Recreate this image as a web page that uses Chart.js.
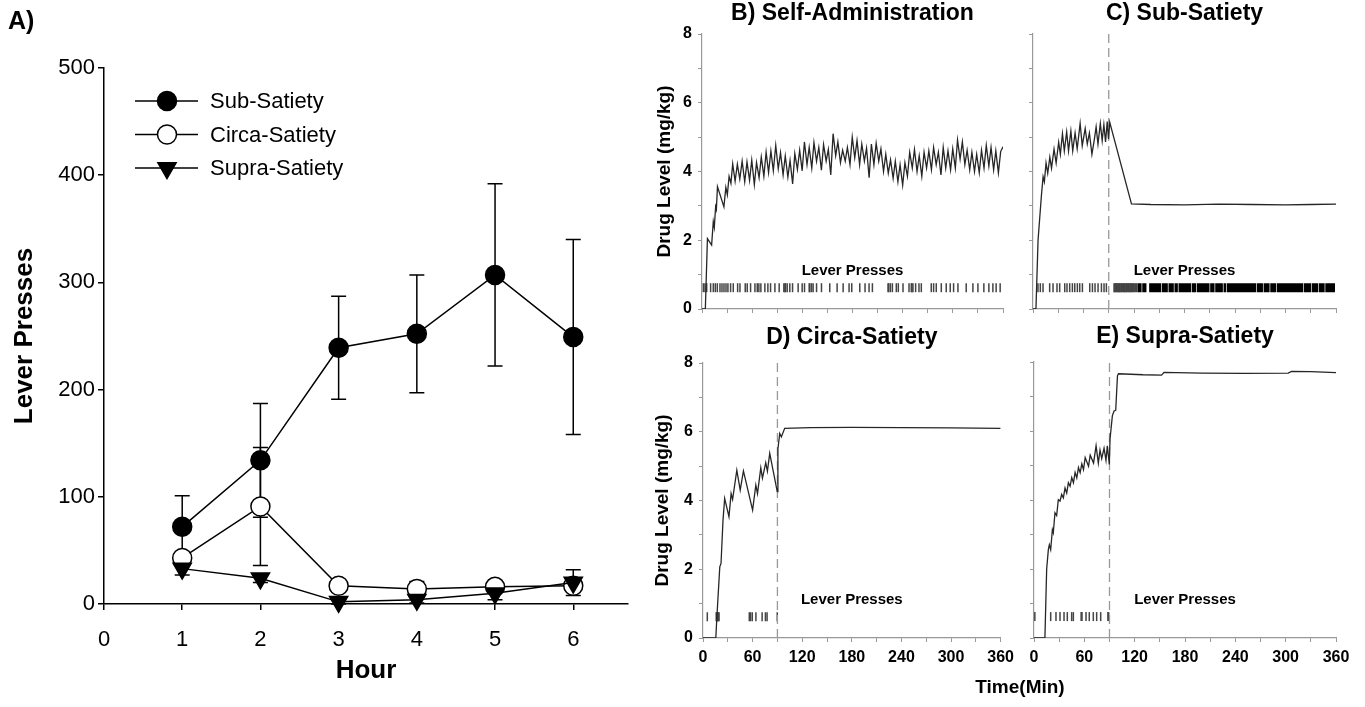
<!DOCTYPE html>
<html>
<head>
<meta charset="utf-8">
<script src="https://cdn.jsdelivr.net/npm/chart.js@4.4.1/dist/chart.umd.min.js"></script>
<style>
  html, body { margin: 0; padding: 0; background: #fff; width: 1365px; height: 707px; overflow: hidden; }
  canvas { position: absolute; }
  #timeLabel { position: absolute; left: 920px; top: 676px; width: 200px; text-align: center;
    font: bold 19px 'Liberation Sans', Arial, sans-serif; line-height: 22px; color: #000; }
</style>
</head>
<body>
<canvas id="cA" width="640" height="707" style="left:0;top:0"></canvas>
<canvas id="cB" width="380" height="330" style="left:640px;top:0"></canvas>
<canvas id="cC" width="345" height="330" style="left:1020px;top:0"></canvas>
<canvas id="cD" width="380" height="387" style="left:640px;top:320px"></canvas>
<canvas id="cE" width="345" height="387" style="left:1020px;top:320px"></canvas>
<div id="timeLabel">Time(Min)</div>
<script>
// ---------------- Panel A data ----------------
const HOURS = [1, 2, 3, 4, 5, 6];
const SUB_MEAN = [72, 134, 239, 252, 307, 249];
const SUB_SEM = [29, 53, 48, 55, 85, 91];
const CIRCA_MEAN = [43, 91, 17, 14, 16, 17];
const CIRCA_SEM = [5, 55, 4, 7, 4, 5];
const SUPRA_MEAN = [33, 24, 2, 4, 10, 20];
const SUPRA_SEM = [6, 4, 2, 3, 6, 12];
const A_X_TICKS = [0, 1, 2, 3, 4, 5, 6];
const A_Y_TICKS = [0, 100, 200, 300, 400, 500];

// ---------------- Panels B-E data ([minute, mg/kg]) ----------------
const TIME_TICKS = [0, 30, 60, 90, 120, 150, 180, 210, 240, 270, 300, 330, 360];
const TIME_LABELS = [0, 60, 120, 180, 240, 300, 360];
const LEVEL_TICKS = [0, 1, 2, 3, 4, 5, 6, 7, 8];
const LEVEL_LABELS = [0, 2, 4, 6, 8];
const SATIETY_MIN = 90;

const B_TRACE = [[0,0],[4,0],[6.5,2.05],[11.5,1.86],[13.5,2.54],[14.7,2.37],[16.3,2.98],[17.2,2.9],[18.5,3.56],[26.2,2.97],[28.5,3.54],[30.3,3.32],[32.4,3.86],[34.6,3.66],[36.7,4.22],
[39.6,3.72],[42.3,4.21],[45.2,3.78],[48.0,4.3],[51.1,3.7],[53.8,4.28],[56.9,3.74],[59.5,4.33],[62.6,3.62],[65.2,4.26],[68.3,3.82],[70.9,4.42],[74.0,3.86],[76.7,4.56],[79.6,3.97],[82.4,4.6],[85.3,4.02],[88.2,4.76],[91.2,4.08],[93.9,4.55],[97.0,3.9],[99.6,4.45],[102.7,3.84],[105.3,4.32],[108.4,3.64],[111.0,4.52],[114.1,4.06],[116.8,4.62],[119.8,4.02],[122.5,4.86],[125.6,4.2],[128.2,4.7],[131.3,4.1],[133.9,4.84],[137.0,4.3],[139.7,4.7],[142.8,4.04],[145.4,4.78],[148.5,4.3],[151.1,4.64],[154.0,3.9],[156.8,5.1],[159.9,4.46],[162.5,4.86],[165.6,4.26],[168.2,4.62],[171.3,4.3],[173.9,4.7],[177.0,4.2],[179.7,5.0],[182.7,4.4],[185.4,4.9],[188.5,4.2],[191.1,4.8],[194.2,4.3],[196.8,4.68],[199.9,3.82],[202.6,4.8],[205.6,4.2],[208.3,4.82],[211.4,4.3],[214.0,4.66],[217.1,4.0],[219.8,4.5],[222.8,3.95],[225.5,4.34],[228.6,3.8],[231.2,4.3],[234.3,3.7],[236.9,4.2],[240.0,3.6],[242.7,4.26],[245.7,3.86],[248.4,4.56],[251.5,4.1],[254.1,4.64],[257.2,4.0],[259.8,4.46],[262.9,3.86],[265.6,4.56],[268.6,4.1],[271.3,4.6],[274.4,4.05],[277.0,4.7],[280.1,4.2],[282.7,4.56],[285.8,3.9],[288.5,4.7],[291.5,4.1],[294.2,4.6],[297.3,4.05],[299.9,4.66],[303.0,4.1],[305.6,4.92],[308.7,4.36],[311.4,4.86],[314.4,4.2],[317.1,4.62],[320.2,4.05],[322.8,4.56],[325.9,4.0],[328.5,4.5],[331.6,3.96],[334.3,4.62],[337.3,4.1],[340.0,4.76],[343.1,4.16],[345.7,4.7],[348.8,4.05],[351.4,4.6],[354.5,3.96],[357.2,4.58],[360,4.72]];

const C_TRACE = [[0,0],[3.5,0],[6,2.0],[10,3.3],[12,3.85],[13.5,3.7],[15.5,4.25],[17.5,3.95],[20,4.42],[22,4.1],[25,4.65],[27.5,4.25],[30.5,4.85],[32.5,4.5],[35,5.1],[37.2,4.6],[40,5.15],[42.2,4.6],[45,5.18],[47.2,4.6],[50,5.12],[52.5,4.66],[56,5.4],[58.5,4.75],[62,5.25],[64.5,4.8],[67,5.12],[70,4.5],[73,4.95],[75,5.3],[77.2,4.8],[80,5.4],[82.2,4.9],[84.2,5.36],[86.2,4.86],[88.2,5.45],[89.7,4.95],[91.2,5.43],[117,3.06],[140,3.04],[180,3.03],[220,3.05],[260,3.04],[300,3.03],[330,3.04],[360,3.05]];

const D_TRACE = [[0,0],[15.5,0],[16.8,0.62],[20.3,2.07],[21.8,2.17],[24.2,3.43],[26.2,4.06],[31.4,3.53],[34,4.2],[35.8,4.03],[40.9,4.88],[45,4.3],[48.9,4.86],[60,3.72],[63.9,4.45],[65.9,4.2],[69.9,4.95],[71.9,4.65],[75.9,5.1],[77.9,4.85],[80.7,5.37],[89.8,4.26],[90.6,5.5],[92.8,5.95],[94.8,5.85],[98.8,6.1],[130,6.12],[180,6.13],[240,6.12],[300,6.11],[360,6.1]];

const E_TRACE = [[0,0],[13,0],[15.1,2.0],[17.1,2.56],[18.3,2.7],[19.9,2.56],[21.9,3.14],[23,3.05],[25,3.63],[27,3.55],[29,4.01],[31,3.97],[33,4.16],[35,4.06],[37,4.35],[39,4.2],[41,4.5],[43,4.4],[45,4.65],[47,4.5],[49,4.8],[51,4.64],[53,4.94],[55,4.79],[57,5.05],[59,4.88],[61,5.23],[65,4.98],[67,5.3],[71,5.07],[74,5.57],[76.7,5.07],[78.7,5.45],[80.7,5.2],[83.5,5.5],[85.8,5.15],[87.4,5.57],[89.8,5.03],[90.6,5.76],[93.4,6.44],[95.4,6.58],[97.4,6.6],[99.5,7.6],[100.7,7.66],[130,7.63],[152,7.62],[155,7.7],[200,7.68],[250,7.67],[303,7.68],[307,7.73],[330,7.72],[360,7.69]];

// lever press times (min)
const B_PRESSES = [1.6,3.6,5.6,10.3,13.5,15.9,18.3,21.5,23.9,26.3,28.7,31,34.2,37.4,42.6,45.4,51.7,54.1,58.1,63.3,66.1,68,70.4,75.2,78.8,82,87.2,92.3,97.9,99.2,99.9,101.9,105,108.3,115,119.8,122.6,128.2,129,131,132.9,137,142.9,152.8,161.6,168.8,175.9,179.1,188.7,195,199.8,203.8,222.5,223.3,225.3,227.7,232.4,234.8,240.4,247.6,250.3,251.1,252.3,255.5,259.5,262.3,274.2,277,280.2,286.2,292.1,296.9,300.9,306.1,316,324,330,337.1,343.1,347.9,351.8,356.6];
const C_PRESSES = [5.9,8.7,11.9,19.8,23.8,28.5,31.7,37.7,40.4,43.6,46.8,49.6,52.7,55.5,58.7,67.4,70.6,73.7,77.3,81.3,84.4,87.2,
  96.3,97.2,98,99.1,99.9,100.8,101.9,102.6,103.5,104.6,105.4,106.3,107.5,108.2,109.1,110.3,111,112,113.2,114.1,115,116.2,117,118.1,119.3,120.2,121.8,123.2];
const C_PRESS_BLOCKS = [[124.1,129],[129.8,134.8],[138,152.3],[153.1,160.2],[161,167.3],[168.1,172.1],[172.9,187.9],[188.7,193.9],[194.7,209.7],[210.5,215.7],[216.5,225.6],[226.4,229.6],[230.4,265.3],[266.1,273.2],[274,281.1],[281.9,289],[289.8,320.8],[321.6,330.7],[331.5,338.6],[339.4,346.5],[347.3,358.8]];
const D_PRESSES = [5.2,16,16.6,17.2,17.8,18.5,19.4,56,57.5,59.6,64,71.5,75.5,77.5,89.8];
const E_PRESSES = [1,19.9,26.2,31,35.8,39.7,44.9,46.9,56.2,57.2,62,65.9,70.7,74.7,79.5,88.1,89];
const PRESS_LEVEL = 0.62;
const PRESS_LABEL_POS = [180, 1.1];

// ---------------- common ----------------
const FONT = "'Liberation Sans', Arial, sans-serif";
Chart.defaults.font.family = FONT;
Chart.defaults.color = '#000';
Chart.defaults.animation = false;

const errorBars = {
  id: 'errorBars',
  beforeDatasetsDraw(chart) {
    const { ctx, scales: { x, y } } = chart;
    ctx.save();
    ctx.strokeStyle = '#000';
    ctx.lineWidth = 1.5;
    chart.data.datasets.forEach(ds => {
      if (!ds.errors) return;
      ds.data.forEach((p, i) => {
        const e = ds.errors[i];
        const px = x.getPixelForValue(p.x);
        const yt = y.getPixelForValue(p.y + e);
        const yb = y.getPixelForValue(Math.max(p.y - e, 0));
        ctx.beginPath();
        ctx.moveTo(px, yt); ctx.lineTo(px, yb);
        ctx.moveTo(px - 7.5, yt); ctx.lineTo(px + 7.5, yt);
        ctx.moveTo(px - 7.5, yb); ctx.lineTo(px + 7.5, yb);
        ctx.stroke();
      });
    });
    ctx.restore();
  }
};

const legendA = {
  id: 'legendA',
  afterDraw(chart) {
    const { ctx, chartArea: { left, top } } = chart;
    ctx.save();
    ctx.font = '22px ' + FONT;
    ctx.textBaseline = 'middle';
    ctx.textAlign = 'left';
    chart.data.datasets.forEach((ds, i) => {
      const yy = top + 33 + i * 33.5;
      ctx.strokeStyle = '#000';
      ctx.lineWidth = 1.5;
      ctx.beginPath();
      ctx.moveTo(left + 31, yy); ctx.lineTo(left + 94, yy);
      ctx.stroke();
      ctx.fillStyle = ds.pointBackgroundColor;
      ctx.strokeStyle = ds.pointBorderColor;
      ctx.lineWidth = ds.pointBorderWidth;
      Chart.helpers.drawPoint(ctx, { pointStyle: ds.pointStyle, rotation: ds.pointRotation || 0, radius: ds.pointRadius, borderWidth: ds.pointBorderWidth }, left + 63, yy);
      ctx.fillStyle = '#000';
      ctx.fillText(ds.label, left + 106, yy + 1);
    });
    ctx.restore();
  }
};

function series(means) { return HOURS.map((h, i) => ({ x: h, y: means[i] })); }

new Chart(document.getElementById('cA'), {
  type: 'line',
  data: {
    datasets: [
      { label: 'Sub-Satiety', data: series(SUB_MEAN), errors: SUB_SEM, borderColor: '#000', borderWidth: 1.5,
        pointStyle: 'circle', pointRadius: 9.5, pointBackgroundColor: '#000', pointBorderColor: '#000', pointBorderWidth: 1.5, order: 2, clip: false },
      { label: 'Circa-Satiety', data: series(CIRCA_MEAN), errors: CIRCA_SEM, borderColor: '#000', borderWidth: 1.5,
        pointStyle: 'circle', pointRadius: 9.5, pointBackgroundColor: '#fff', pointBorderColor: '#000', pointBorderWidth: 1.5, order: 1, clip: false },
      { label: 'Supra-Satiety', data: series(SUPRA_MEAN), errors: SUPRA_SEM, borderColor: '#000', borderWidth: 1.5,
        pointStyle: 'triangle', pointRotation: 180, pointRadius: 10.5, pointBackgroundColor: '#000', pointBorderColor: '#000', pointBorderWidth: 1.5, order: 0, clip: false }
    ]
  },
  options: {
    responsive: false, devicePixelRatio: 1, animation: false,
    layout: { padding: { left: 8, right: 10, top: 0, bottom: 0 } },
    plugins: {
      legend: { display: false }, tooltip: { enabled: false },
      title: { display: true, text: 'A)', align: 'start', color: '#000', font: { size: 25, weight: 'bold' }, padding: { top: 7, bottom: 31 } }
    },
    scales: {
      x: {
        type: 'linear', min: 0, max: 6.7,
        afterBuildTicks: s => { s.ticks = A_X_TICKS.map(v => ({ value: v })); },
        afterFit: s => { s.height = 103; },
        ticks: { font: { size: 22 }, padding: 17, color: '#000', autoSkip: false, maxRotation: 0 },
        grid: { drawOnChartArea: false, drawTicks: true, tickLength: 6, color: '#000', lineWidth: 1.5 },
        border: { color: '#000', width: 1.5 },
        title: { display: true, text: 'Hour', color: '#000', font: { size: 26, weight: 'bold' }, padding: { top: 0, bottom: 21 } }
      },
      y: {
        type: 'linear', min: 0, max: 500,
        afterBuildTicks: s => { s.ticks = A_Y_TICKS.map(v => ({ value: v })); },
        afterFit: s => { s.width = 96; },
        ticks: { font: { size: 22 }, padding: 3, color: '#000' },
        grid: { drawOnChartArea: false, drawTicks: true, tickLength: 6, color: '#000', lineWidth: 1.5 },
        border: { color: '#000', width: 1.5 },
        title: { display: true, text: 'Lever Presses', color: '#000', font: { size: 26, weight: 'bold' }, padding: { top: 1, bottom: 0 } }
      }
    }
  },
  plugins: [errorBars, legendA]
});

// ---------------- drug level panels ----------------
const pressLabel = {
  id: 'pressLabel',
  afterDatasetsDraw(chart) {
    const { ctx, scales: { x, y } } = chart;
    ctx.save();
    ctx.font = 'bold 15px ' + FONT;
    ctx.fillStyle = '#000';
    ctx.textAlign = 'center';
    ctx.textBaseline = 'middle';
    ctx.fillText('Lever Presses', x.getPixelForValue(PRESS_LABEL_POS[0]), y.getPixelForValue(PRESS_LABEL_POS[1]));
    ctx.restore();
  }
};

function drugChart(id, o) {
  const datasets = [
    { type: 'line', data: o.trace.map(([t, v]) => ({ x: t, y: v })), borderColor: '#262626', borderWidth: 1.3,
      pointRadius: 0, tension: 0, order: 0 },
    { type: 'scatter', data: o.presses.map(t => ({ x: t, y: PRESS_LEVEL })), showLine: false, pointStyle: 'line',
      pointRotation: 90, pointRadius: 4.5, pointBorderWidth: 1.5, pointBorderColor: '#444', pointBackgroundColor: '#444', order: 2 }
  ];
  if (o.blocks) {
    datasets.push({ type: 'line', data: o.blocks.flatMap(([a, b]) => [{ x: a, y: PRESS_LEVEL }, { x: b, y: PRESS_LEVEL }, { x: b, y: null }]),
      borderColor: '#000', borderWidth: 9, borderCapStyle: 'butt', pointRadius: 0, spanGaps: false, order: 2 });
  }
  if (o.dashed) {
    datasets.push({ type: 'line', data: [{ x: SATIETY_MIN, y: 0 }, { x: SATIETY_MIN, y: 8 }], borderColor: '#999', borderWidth: 1.3,
      borderDash: [9, 5], pointRadius: 0, order: 1 });
  }
  new Chart(document.getElementById(id), {
    type: 'line',
    data: { datasets },
    options: {
      responsive: false, devicePixelRatio: 1, animation: false,
      layout: { padding: { left: 0, right: o.padRight, top: 0, bottom: 0 } },
      plugins: {
        legend: { display: false }, tooltip: { enabled: false },
        title: { display: true, text: o.title, color: '#000', fullSize: false, font: { size: 23, weight: 'bold' },
          padding: { top: o.titleTop, bottom: o.titleBottom } }
      },
      scales: {
        x: {
          type: 'linear', min: 0, max: 360,
          afterBuildTicks: s => { s.ticks = TIME_TICKS.map(v => ({ value: v })); },
          afterFit: s => { s.height = o.xHeight; },
          ticks: { display: o.xLabels, autoSkip: false, maxRotation: 0, padding: 6, color: '#000',
            font: { size: 16, weight: 'bold' }, callback: v => TIME_LABELS.includes(v) ? String(v) : '' },
          grid: { drawOnChartArea: false, drawTicks: true, tickLength: 4, color: '#999', lineWidth: 1 },
          border: { color: '#999', width: 1.2 }
        },
        y: {
          type: 'linear', min: 0, max: 8,
          afterBuildTicks: s => { s.ticks = LEVEL_TICKS.map(v => ({ value: v })); },
          afterFit: s => { s.width = o.yWidth; },
          ticks: { display: o.yLabels, padding: 6, color: '#000', font: { size: 16, weight: 'bold' },
            callback: v => LEVEL_LABELS.includes(v) ? String(v) : '' },
          grid: { drawOnChartArea: false, drawTicks: true, tickLength: 4, color: '#999', lineWidth: 1 },
          border: { color: '#999', width: 1.2 },
          title: { display: o.yLabels, text: 'Drug Level (mg/kg)', color: '#000', font: { size: 19, weight: 'bold' },
            padding: { top: o.yTitlePad, bottom: 0 } }
        }
      }
    },
    plugins: [pressLabel]
  });
}

drugChart('cB', { title: 'B) Self-Administration', trace: B_TRACE, presses: B_PRESSES, dashed: false,
  padRight: 17, yWidth: 62, xHeight: 21, titleTop: 0, titleBottom: 6.4, yLabels: true, xLabels: false, yTitlePad: 13.6 });
drugChart('cC', { title: 'C) Sub-Satiety', trace: C_TRACE, presses: C_PRESSES, blocks: C_PRESS_BLOCKS, dashed: true,
  padRight: 29, yWidth: 13, xHeight: 21, titleTop: 0, titleBottom: 6.4, yLabels: false, xLabels: false, yTitlePad: 0 });
drugChart('cD', { title: 'D) Circa-Satiety', trace: D_TRACE, presses: D_PRESSES, dashed: true,
  padRight: 16, yWidth: 63, xHeight: 69, titleTop: 4.2, titleBottom: 11.2, yLabels: true, xLabels: true, yTitlePad: 11.1 });
drugChart('cE', { title: 'E) Supra-Satiety', trace: E_TRACE, presses: E_PRESSES, dashed: true,
  padRight: 29, yWidth: 14, xHeight: 69, titleTop: 3.2, titleBottom: 11.2, yLabels: false, xLabels: true, yTitlePad: 0 });
</script>
</body>
</html>
